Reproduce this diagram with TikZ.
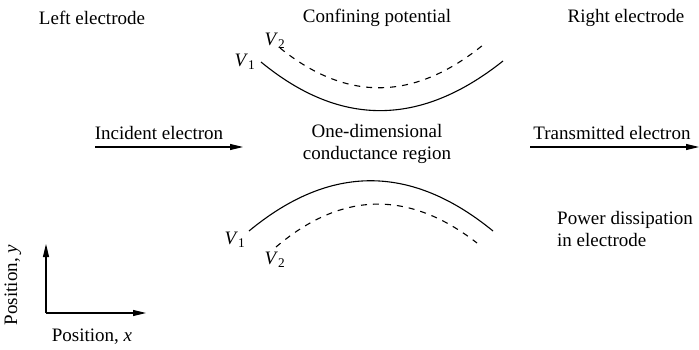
\documentclass[tikz,border=0pt]{standalone}
\usepackage{fontspec}
\setmainfont{Liberation Serif}
\usepackage{tikz}
\usetikzlibrary{arrows.meta,positioning}
\newcommand{\vlab}[1]{\textit{V}\textsubscript{#1}}

\begin{document}
\begin{tikzpicture}[
    x=1pt, y=-1pt,
    lbl/.style={inner sep=0pt, align=center, font=\fontsize{19}{22}\selectfont},
    wall/.style={line width=1.1pt},
    wallb/.style={line width=1.1pt, dash pattern=on 6pt off 6pt},
    arrow/.style={-{Triangle[length=13pt, width=6pt]}, line width=1.1pt}
]
    \useasboundingbox (0,0) rectangle (699,350);

    % Headings
    \node[lbl] (left) at (92,18) {Left electrode};
    \node[lbl] (conf) at (377,18) {Confining potential};
    \node[lbl] (right) at (626,18) {Right electrode};

    % Upper potential walls
    \draw[wall] (261,62) .. controls (340,127) and (420,127) .. (503,61);
    \draw[wallb] (280,48) .. controls (347,102) and (414,101) .. (483,45);
    \node[lbl] (v1a) at (245,62) {\vlab{1}};
    \node[lbl] (v2a) at (275,41) {\vlab{2}};

    % Channel
    \node[lbl] (inc) at (159,133) {Incident electron};
    \node[lbl] (chan) at (377,144) {One-dimensional\\conductance region};
    \node[lbl] (trans) at (612,133) {Transmitted electron};
    \coordinate (inA) at (95,147);
    \coordinate (inB) at (243,147);
    \coordinate (outA) at (530,147);
    \coordinate (outB) at (699,147);
    \draw[arrow] (inA) -- (inB);
    \draw[arrow] (outA) -- (outB);

    % Lower potential walls
    \draw[wall] (249,231) .. controls (330,164) and (411,164) .. (493,231);
    \draw[wallb] (276,247) .. controls (342,191) and (409,190) .. (477,243);
    \node[lbl] (v1b) at (235,240) {\vlab{1}};
    \node[lbl] (v2b) at (275,260) {\vlab{2}};

    \node[lbl, align=left, anchor=west] (power) at (557,229) {Power dissipation\\in electrode};

    % Axes
    \coordinate (org) at (46,313);
    \coordinate (xend) at (146,313);
    \coordinate (yend) at (46,244);
    \draw[arrow] (org) -- (xend);
    \draw[arrow] (org) -- (yend);
    \node[lbl] (xlab) at (92,337) {Position, \textit{x}};
    \node[lbl, rotate=90] (ylab) at (13,285) {Position, \textit{y}};
\end{tikzpicture}
\end{document}
